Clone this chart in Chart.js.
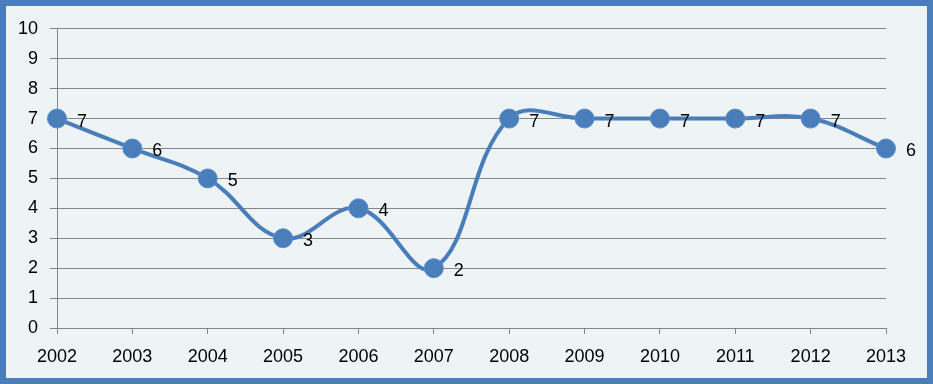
<!DOCTYPE html>
<html>
<head>
<meta charset="utf-8">
<script src="https://cdn.jsdelivr.net/npm/chart.js@4"></script>
<style>
  html, body { margin: 0; padding: 0; background: #eef3f5; }
  #frame {
    width: 933px; height: 384px; box-sizing: border-box;
    border: 6px solid #4a7ebb; background: #eef3f5;
  }
  #wrap { position: relative; width: 921px; height: 372px; }
</style>
</head>
<body>
<div id="frame"><div id="wrap"><canvas id="chartCanvas"></canvas></div></div>
<script>
// values
const years = ['2002', '2003', '2004', '2005', '2006', '2007', '2008', '2009', '2010', '2011', '2012', '2013'];
const values = [7, 6, 5, 3, 4, 2, 7, 7, 7, 7, 7, 6];
const yTicks = [0, 1, 2, 3, 4, 5, 6, 7, 8, 9, 10];

const blue = '#4a7ebb';
const fontFamily = '"Liberation Sans", Arial, sans-serif';

// draw the number next to each point
const pointLabels = {
    id: 'pointLabels',
    afterDatasetsDraw(chart) {
        const ctx = chart.ctx;
        const meta = chart.getDatasetMeta(0);
        ctx.save();
        ctx.font = '18px ' + fontFamily;
        ctx.fillStyle = '#000';
        ctx.textAlign = 'left';
        ctx.textBaseline = 'middle';
        meta.data.forEach((pt, i) => {
            ctx.fillText(String(values[i]), pt.x + 20, pt.y + 3);
        });
        ctx.restore();
    }
};

const ctx = document.getElementById('chartCanvas').getContext('2d');
new Chart(ctx, {
    type: 'line',
    data: {
        labels: years,
        datasets: [{
            data: values,
            borderColor: blue,
            borderWidth: 4,
            backgroundColor: blue,
            pointRadius: 9.5,
            pointHoverRadius: 9.5,
            pointBackgroundColor: blue,
            pointBorderColor: '#5b8cc8',
            pointBorderWidth: 1,
            tension: 0.4,
            cubicInterpolationMode: 'default',
            fill: false
        }]
    },
    options: {
        responsive: true,
        maintainAspectRatio: false,
        animation: false,
        layout: { padding: { left: 0, top: 21, right: 41, bottom: 0 } },
        plugins: {
            legend: { display: false },
            tooltip: { enabled: false }
        },
        scales: {
            x: {
                offset: false,
                grid: {
                    drawOnChartArea: false,
                    drawTicks: true,
                    tickLength: 6,
                    color: '#868686'
                },
                border: { color: '#868686', width: 1 },
                ticks: {
                    color: '#000',
                    font: { family: fontFamily, size: 18 },
                    maxRotation: 0,
                    autoSkip: false,
                    padding: 12
                },
                afterFit(scale) { scale.height = 50; }
            },
            y: {
                min: 0,
                max: 10,
                afterBuildTicks(scale) {
                    scale.ticks = yTicks.map(v => ({ value: v }));
                },
                grid: {
                    color: '#868686',
                    drawTicks: true,
                    tickLength: 7
                },
                border: { color: '#868686', width: 1 },
                ticks: {
                    color: '#000',
                    font: { family: fontFamily, size: 18 },
                    padding: 12
                },
                afterFit(scale) { scale.width = 51; }
            }
        }
    },
    plugins: [pointLabels]
});
</script>
</body>
</html>
